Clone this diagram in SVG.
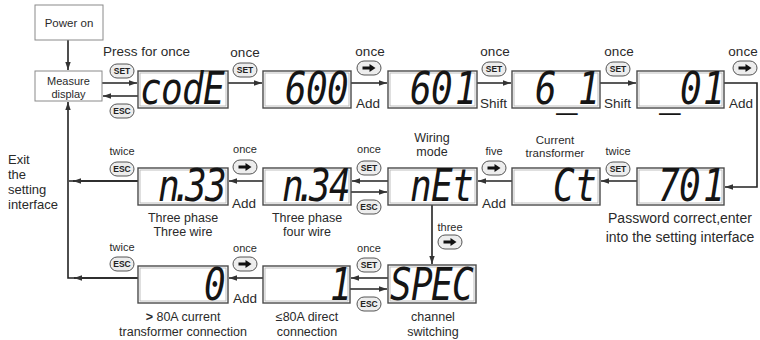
<svg xmlns="http://www.w3.org/2000/svg" xmlns:xlink="http://www.w3.org/1999/xlink" width="760" height="340" viewBox="0 0 760 340">
<style>
.lbl{font-family:"Liberation Sans",Arial,sans-serif;fill:#2a2a2a}
.big{font-size:13.5px}
.sm{font-size:11px}
.two{font-size:12.5px}
.mid{text-anchor:middle}
.box{fill:#fff;stroke:#8a8a8a;stroke-width:1}
.lcdo{fill:#fff;stroke:#4a4a4a;stroke-width:1.4}
.lcdi{fill:none;stroke:#b0b0b0;stroke-width:0.8}
.lcd{font-family:"DejaVu Sans Mono","Liberation Mono",monospace;font-style:oblique;font-size:36px;fill:#151515}
.ln{fill:none;stroke:#222;stroke-width:1.6}
.pill{fill:#ededed;stroke:#555;stroke-width:1}
.bt{font-family:"Liberation Sans",Arial,sans-serif;font-weight:bold;font-size:8.5px;fill:#222;text-anchor:middle}
</style>
<defs>
<marker id="ah" markerUnits="userSpaceOnUse" markerWidth="9" markerHeight="6" refX="8" refY="3" orient="auto">
<path d="M0,0.3 L8,3 L0,5.7 Z" fill="#333"/>
</marker>
<g id="bSET"><rect class="pill" x="0" y="0" width="24" height="14" rx="7"/><text class="bt" x="12" y="10.2">SET</text></g>
<g id="bESC"><rect class="pill" x="0" y="0" width="24" height="14" rx="7"/><text class="bt" x="12" y="10.2">ESC</text></g>
<g id="bARR"><rect class="pill" x="0" y="0" width="24" height="14" rx="7"/><path d="M5.5,5.6 H12.5 V3 L18.5,7 L12.5,11 V8.4 H5.5 Z" fill="#111"/></g>
</defs>

<!-- connectors -->
<g id="connectors">
<path class="ln" d="M68,40 V70" marker-end="url(#ah)"/>
<path class="ln" d="M102,83 H137" marker-end="url(#ah)"/>
<path class="ln" d="M138,96 H103" marker-end="url(#ah)"/>
<path class="ln" d="M228,83 H262" marker-end="url(#ah)"/>
<path class="ln" d="M351,83 H387" marker-end="url(#ah)"/>
<path class="ln" d="M477,83 H511" marker-end="url(#ah)"/>
<path class="ln" d="M600,83 H636" marker-end="url(#ah)"/>
<path class="ln" d="M724,83 H757 V187 H725" marker-end="url(#ah)"/>
<path class="ln" d="M637,181 H601" marker-end="url(#ah)"/>
<path class="ln" d="M512,181 H478" marker-end="url(#ah)"/>
<path class="ln" d="M388,181 H352" marker-end="url(#ah)"/>
<path class="ln" d="M351,192 H387" marker-end="url(#ah)"/>
<path class="ln" d="M263,181 H229" marker-end="url(#ah)"/>
<path class="ln" d="M138,181 H69"/>
<path class="ln" d="M138,181 H73" marker-end="url(#ah)"/>
<path class="ln" d="M432,205 V264" marker-end="url(#ah)"/>
<path class="ln" d="M388,278 H351" marker-end="url(#ah)"/>
<path class="ln" d="M350,289 H387" marker-end="url(#ah)"/>
<path class="ln" d="M263,278 H229" marker-end="url(#ah)"/>
<path class="ln" d="M138,278 H68 V102" marker-end="url(#ah)"/>
<path class="ln" d="M138,278 H74" marker-end="url(#ah)"/>
</g>

<!-- buttons -->
<g id="buttons">
<use xlink:href="#bSET" x="110" y="64"/>
<use xlink:href="#bESC" x="110" y="104"/>
<use xlink:href="#bSET" x="233" y="63"/>
<use xlink:href="#bARR" x="357" y="61"/>
<use xlink:href="#bSET" x="482" y="62"/>
<use xlink:href="#bSET" x="606" y="62"/>
<use xlink:href="#bARR" x="733" y="61"/>
<use xlink:href="#bSET" x="606" y="162"/>
<use xlink:href="#bARR" x="482" y="161"/>
<use xlink:href="#bSET" x="357" y="161"/>
<use xlink:href="#bESC" x="357" y="200"/>
<use xlink:href="#bARR" x="233" y="160"/>
<use xlink:href="#bESC" x="110" y="162"/>
<use xlink:href="#bARR" x="438" y="235"/>
<use xlink:href="#bESC" x="110" y="257"/>
<use xlink:href="#bARR" x="233" y="257"/>
<use xlink:href="#bSET" x="357" y="258"/>
<use xlink:href="#bESC" x="357" y="297"/>
</g>

<g id="power-on"><rect class="box" x="35" y="5" width="68" height="35"/><text class="lbl mid" x="69" y="27" font-size="11.5">Power on</text></g>
<g id="measure-display"><rect class="box" x="35" y="71" width="67" height="30"/><text class="lbl mid" x="68.5" y="85" font-size="11">Measure</text><text class="lbl mid" x="68.5" y="98" font-size="11">display</text></g>

<g id="code"><rect class="lcdo" x="138" y="71" width="90" height="37"/><rect class="lcdi" x="140" y="73" width="86" height="33"/><text class="lcd" transform="translate(0,104) scale(1,1.25)" x="140 161 182 203" y="0">codE</text></g>
<g id="n600"><rect class="lcdo" x="263" y="71" width="88" height="37"/><rect class="lcdi" x="265" y="73" width="84" height="33"/><text class="lcd" transform="translate(0,104) scale(1,1.25)" x="285 306 327" y="0">600</text></g>
<g id="n601"><rect class="lcdo" x="388" y="71" width="89" height="37"/><rect class="lcdi" x="390" y="73" width="85" height="33"/><text class="lcd" transform="translate(0,104) scale(1,1.25)" x="410 431 455" y="0">601</text></g>
<g id="n6_1"><rect class="lcdo" x="512" y="71" width="88" height="37"/><rect class="lcdi" x="514" y="73" width="84" height="33"/><text class="lcd" transform="translate(0,104) scale(1,1.25)" x="535 556 578" y="0">6_1</text></g>
<g id="n_01"><rect class="lcdo" x="637" y="71" width="87" height="37"/><rect class="lcdi" x="639" y="73" width="83" height="33"/><text class="lcd" transform="translate(0,104) scale(1,1.25)" x="659 680 703" y="0">_01</text></g>

<g id="n701"><rect class="lcdo" x="637" y="168" width="87" height="37"/><rect class="lcdi" x="639" y="170" width="83" height="33"/><text class="lcd" transform="translate(0,201) scale(1,1.25)" x="658 679 703" y="0">701</text></g>
<g id="ct"><rect class="lcdo" x="512" y="168" width="88" height="37"/><rect class="lcdi" x="514" y="170" width="84" height="33"/><text class="lcd" transform="translate(0,201) scale(1,1.25)" x="553 575" y="0">Ct</text></g>
<g id="net"><rect class="lcdo" x="388" y="168" width="89" height="37"/><rect class="lcdi" x="390" y="170" width="85" height="33"/><text class="lcd" transform="translate(0,201) scale(1,1.25)" x="410 431 452" y="0">nEt</text></g>
<g id="n34"><rect class="lcdo" x="263" y="168" width="88" height="37"/><rect class="lcdi" x="265" y="170" width="84" height="33"/><text class="lcd" transform="translate(0,201) scale(1,1.25)" x="282 295 309 329" y="0">n.34</text></g>
<g id="n33"><rect class="lcdo" x="138" y="168" width="90" height="37"/><rect class="lcdi" x="140" y="170" width="86" height="33"/><text class="lcd" transform="translate(0,201) scale(1,1.25)" x="158 171 185 205" y="0">n.33</text></g>

<g id="n0"><rect class="lcdo" x="138" y="266" width="90" height="37"/><rect class="lcdi" x="140" y="268" width="86" height="33"/><text class="lcd" transform="translate(0,300) scale(1,1.25)" x="204" y="0">0</text></g>
<g id="n1"><rect class="lcdo" x="263" y="266" width="87" height="37"/><rect class="lcdi" x="265" y="268" width="83" height="33"/><text class="lcd" transform="translate(0,300) scale(1,1.25)" x="330" y="0">1</text></g>
<g id="spec"><rect class="lcdo" x="388" y="265" width="88" height="38"/><rect class="lcdi" x="390" y="267" width="84" height="34"/><text class="lcd" transform="translate(0,300) scale(1,1.25)" x="390 411 431 452" y="0">SPEC</text></g>

<!-- labels -->
<g id="labels">
<text class="lbl big" x="103" y="56">Press for once</text>
<text class="lbl big mid" x="245" y="57">once</text>
<text class="lbl big mid" x="370" y="56">once</text>
<text class="lbl big mid" x="495" y="56">once</text>
<text class="lbl big mid" x="619" y="56">once</text>
<text class="lbl big mid" x="743" y="56">once</text>
<text class="lbl big" x="356" y="108">Add</text>
<text class="lbl big" x="480" y="108">Shift</text>
<text class="lbl big" x="604" y="108">Shift</text>
<text class="lbl big" x="729" y="108">Add</text>

<text class="lbl" x="8" y="164" font-size="13">Exit</text>
<text class="lbl" x="8" y="179" font-size="13">the</text>
<text class="lbl" x="8" y="194" font-size="13">setting</text>
<text class="lbl" x="8" y="209" font-size="13">interface</text>

<text class="lbl sm mid" x="122" y="155">twice</text>
<text class="lbl sm mid" x="245" y="153">once</text>
<text class="lbl sm mid" x="369" y="153">once</text>
<text class="lbl sm mid" x="494" y="155">five</text>
<text class="lbl sm mid" x="618" y="155">twice</text>
<text class="lbl sm mid" x="450" y="231">three</text>
<text class="lbl sm mid" x="122" y="251">twice</text>
<text class="lbl sm mid" x="245" y="252">once</text>
<text class="lbl sm mid" x="369" y="252">once</text>

<text class="lbl" x="232" y="208" font-size="13.5">Add</text>
<text class="lbl" x="482" y="208" font-size="13.5">Add</text>
<text class="lbl" x="233" y="303" font-size="13.5">Add</text>

<text class="lbl two mid" x="432" y="141.5">Wiring</text>
<text class="lbl two mid" x="432" y="156">mode</text>
<text class="lbl mid" x="555" y="143.5" font-size="11.5">Current</text>
<text class="lbl mid" x="555" y="157" font-size="11.5">transformer</text>
<text class="lbl two mid" x="183" y="221.5">Three phase</text>
<text class="lbl two mid" x="183" y="236">Three wire</text>
<text class="lbl two mid" x="307" y="221.5">Three phase</text>
<text class="lbl two mid" x="307" y="236">four wire</text>
<text class="lbl mid" x="680" y="223" font-size="14">Password correct,enter</text>
<text class="lbl mid" x="680" y="242" font-size="14">into the setting interface</text>
<text class="lbl two mid" x="183" y="321"><tspan font-weight="bold">&gt;</tspan> 80A current</text>
<text class="lbl two mid" x="183" y="335.5">transformer connection</text>
<text class="lbl two mid" x="307" y="321">≤80A direct</text>
<text class="lbl two mid" x="307" y="335.5">connection</text>
<text class="lbl two mid" x="433" y="321">channel</text>
<text class="lbl two mid" x="433" y="335.5">switching</text>
</g>
</svg>
